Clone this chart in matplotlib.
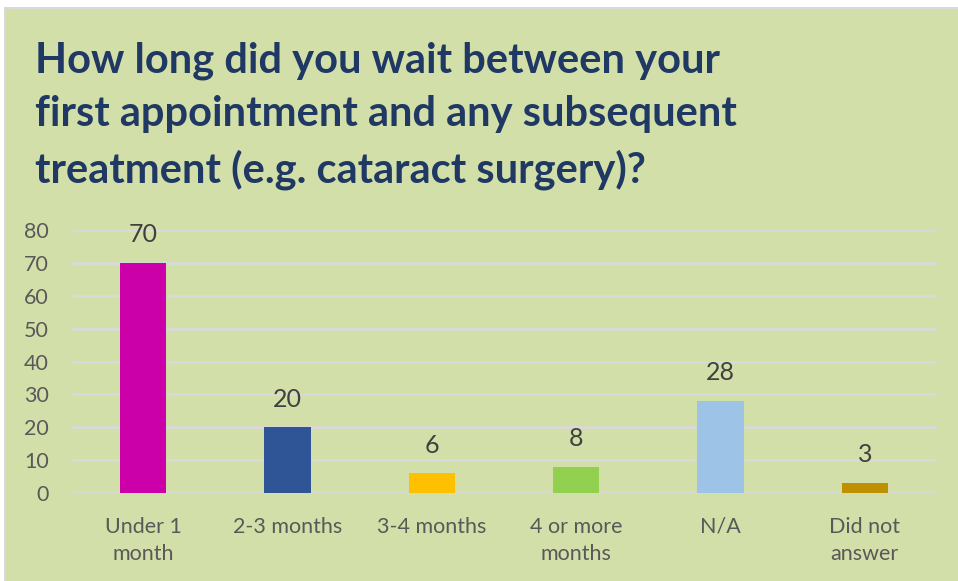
import matplotlib.pyplot as plt
from matplotlib.patches import Rectangle

categories = ["Under 1\nmonth", "2-3 months", "3-4 months", "4 or more\nmonths", "N/A", "Did not\nanswer"]
values = [70, 20, 6, 8, 28, 3]
bar_colors = ["#CC00A8", "#2F5597", "#FFC000", "#92D050", "#9DC3E6", "#BF9000"]
yticks = [0, 10, 20, 30, 40, 50, 60, 70, 80]

title = "How long did you wait between your\nfirst appointment and any subsequent\ntreatment (e.g. cataract surgery)?"

W, H = 958, 581
fig = plt.figure(figsize=(W / 100, H / 100), dpi=100)
fig.patch.set_facecolor("white")

# panneau vert avec bordure grise
fig.patches.append(Rectangle((4 / W, 0), 1, 1 - 7 / H, transform=fig.transFigure,
                             facecolor="#D9D9D9", edgecolor="none", zorder=-2))
fig.patches.append(Rectangle((6 / W, 0), 1, 1 - 9 / H, transform=fig.transFigure,
                             facecolor="#D3DFA8", edgecolor="none", zorder=-1))

# titre
fig.text(35 / W, 1 - 42 / H, title, ha="left", va="top", fontsize=30,
         fontfamily="Lato", fontweight="bold", color="#1F3864", linespacing=1.48)

# axes : x de 71 a 937 px, y=0 a 493 px, y=80 a 230 px
ax = fig.add_axes([71 / W, 1 - 493 / H, (937 - 71) / W, (493 - 230) / H])
ax.set_zorder(2)
ax.set_facecolor("none")
x = range(len(categories))
bars = ax.bar(x, values, width=0.32, color=bar_colors, zorder=3)
ax.set_xlim(-0.5, len(categories) - 0.5)
ax.set_ylim(0, 80)
ax.set_yticks(yticks)
ax.set_xticks(list(x))
ax.set_xticklabels(categories, fontsize=15.5, fontfamily="Lato", color="#595959", linespacing=1.45)
ax.tick_params(axis="y", labelsize=15.5, labelcolor="#595959", length=0, pad=16)
ax.tick_params(axis="x", length=0, pad=17)
for lbl in ax.get_yticklabels():
    lbl.set_fontfamily("Lato")
ax.yaxis.grid(True, color="#D9D9D9", linewidth=2, zorder=0)
ax.set_axisbelow(True)
for s in ax.spines.values():
    s.set_visible(False)

for b, v in zip(bars, values):
    ax.annotate(str(v), (b.get_x() + b.get_width() / 2, v), xytext=(0, 12),
                textcoords="offset points", ha="center", va="bottom",
                fontsize=18, fontfamily="Lato", color="#404040")

plt.savefig("out.png", dpi=100)
